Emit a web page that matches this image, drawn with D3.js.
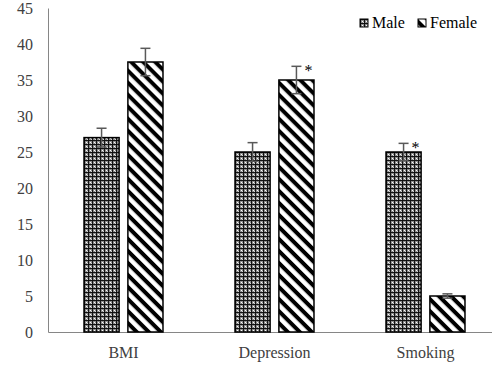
<!DOCTYPE html>
<html lang="en">
<head>
  <meta charset="UTF-8">
  <title>BMI, Depression, Smoking by sex</title>
  <style>
    body { margin: 0; background: #fff; }
  </style>
</head>
<body>
<div id="chart"></div>
<script src="https://d3js.org/d3.v7.min.js"></script>
<script>
  const categories = ["BMI", "Depression", "Smoking"];
  const series = ["Male", "Female"];
  const maleValues = [27, 25, 25];
  const femaleValues = [37.5, 35, 5];
  const maleErrors = [1.3, 1.3, 1.2];
  const femaleErrors = [1.9, 1.9, 0.3];
  // which bars carry a significance star
  const maleStar = [false, false, true];
  const femaleStar = [false, true, false];
  const yTicks = [0, 5, 10, 15, 20, 25, 30, 35, 40, 45];

  const rows = categories.map((c, i) => ({
    cat: c,
    bars: [
      { s: "Male", v: maleValues[i], e: maleErrors[i], star: maleStar[i] },
      { s: "Female", v: femaleValues[i], e: femaleErrors[i], star: femaleStar[i] }
    ]
  }));

  const width = 492, height = 388;
  const plotLeft = 48, plotRight = 501, plotTop = 8, plotBottom = 332;
  const serif = "'Liberation Serif', 'Times New Roman', serif";

  const svg = d3.select("#chart").append("svg")
    .attr("width", width)
    .attr("height", height)
    .attr("font-family", serif);

  const defs = svg.append("defs");

  // male: dense grey grid with light dots
  const pm = defs.append("pattern")
    .attr("id", "pat-male")
    .attr("patternUnits", "userSpaceOnUse")
    .attr("width", 4).attr("height", 4);
  pm.append("rect").attr("width", 4).attr("height", 4).attr("fill", "#8c8c8c");
  pm.append("rect").attr("width", 1).attr("height", 4).attr("fill", "#111");
  pm.append("rect").attr("width", 4).attr("height", 1).attr("fill", "#111");
  pm.append("rect").attr("x", 2).attr("y", 2).attr("width", 1).attr("height", 1).attr("fill", "#fff");
  pm.append("rect").attr("x", 3).attr("y", 3).attr("width", 1).attr("height", 1).attr("fill", "#d8d8d8");

  // female: wide downward diagonal stripes
  const pf = defs.append("pattern")
    .attr("id", "pat-female")
    .attr("patternUnits", "userSpaceOnUse")
    .attr("width", 8.5).attr("height", 8.5)
    .attr("patternTransform", "rotate(45)");
  pf.append("rect").attr("width", 8.5).attr("height", 8.5).attr("fill", "#fff");
  pf.append("rect").attr("width", 8.5).attr("height", 4).attr("fill", "#000");

  const fills = { Male: "url(#pat-male)", Female: "url(#pat-female)" };

  const x = d3.scaleBand()
    .domain(categories)
    .range([plotLeft, plotRight])
    .paddingInner(0.477)
    .paddingOuter(0.2385);

  const x1 = d3.scaleBand()
    .domain(series)
    .range([0, x.bandwidth()])
    .paddingInner(0.2);

  const y = d3.scaleLinear()
    .domain([0, 45])
    .range([plotBottom, plotTop]);

  // y axis
  const yAxis = svg.append("g")
    .attr("transform", `translate(${plotLeft},0)`)
    .call(d3.axisLeft(y).tickValues(yTicks).tickSize(0).tickPadding(15))
    .attr("font-family", serif)
    .attr("font-size", 16);
  yAxis.select(".domain").attr("stroke", "#868686");
  yAxis.selectAll("text").attr("fill", "#404040");

  // x axis
  const xAxis = svg.append("g")
    .attr("transform", `translate(0,${plotBottom})`)
    .call(d3.axisBottom(x).tickSize(0).tickPadding(15))
    .attr("font-family", serif)
    .attr("font-size", 16);
  xAxis.select(".domain").attr("stroke", "#868686");
  xAxis.selectAll("text").attr("fill", "#404040");

  const groups = svg.append("g").selectAll("g")
    .data(rows)
    .join("g")
    .attr("transform", d => `translate(${x(d.cat)},0)`);

  groups.selectAll("rect")
    .data(d => d.bars)
    .join("rect")
    .attr("x", d => x1(d.s))
    .attr("y", d => y(d.v))
    .attr("width", x1.bandwidth())
    .attr("height", d => y(0) - y(d.v))
    .attr("fill", d => fills[d.s])
    .attr("stroke", "#000")
    .attr("stroke-width", 1.5);

  // error bars
  const err = groups.selectAll("g.err")
    .data(d => d.bars)
    .join("g")
    .attr("class", "err")
    .attr("transform", d => `translate(${x1(d.s) + x1.bandwidth() / 2},0)`);

  err.append("line")
    .attr("y1", d => y(d.v - d.e))
    .attr("y2", d => y(d.v + d.e))
    .attr("stroke", "#595959")
    .attr("stroke-width", 1.5);
  err.append("line")
    .attr("x1", -5).attr("x2", 5)
    .attr("y1", d => y(d.v + d.e))
    .attr("y2", d => y(d.v + d.e))
    .attr("stroke", "#595959")
    .attr("stroke-width", 1.5);
  err.append("line")
    .attr("x1", -5).attr("x2", 5)
    .attr("y1", d => y(d.v - d.e))
    .attr("y2", d => y(d.v - d.e))
    .attr("stroke", "#595959")
    .attr("stroke-width", 1.5);

  err.filter(d => d.star)
    .append("text")
    .attr("x", 8)
    .attr("y", d => y(d.v + d.e) + 10)
    .attr("fill", "#000")
    .attr("font-size", 16)
    .text("*");

  // legend
  const legend = svg.append("g")
    .attr("transform", "translate(360,19)");
  const items = legend.selectAll("g")
    .data(series)
    .join("g")
    .attr("transform", (d, i) => `translate(${i * 58},0)`);
  items.append("rect")
    .attr("width", 8).attr("height", 8)
    .attr("fill", d => fills[d])
    .attr("stroke", "#000")
    .attr("stroke-width", 1);
  items.append("text")
    .attr("x", 12)
    .attr("y", 8.5)
    .attr("fill", "#000")
    .attr("font-size", 16)
    .text(d => d);
</script>
</body>
</html>
